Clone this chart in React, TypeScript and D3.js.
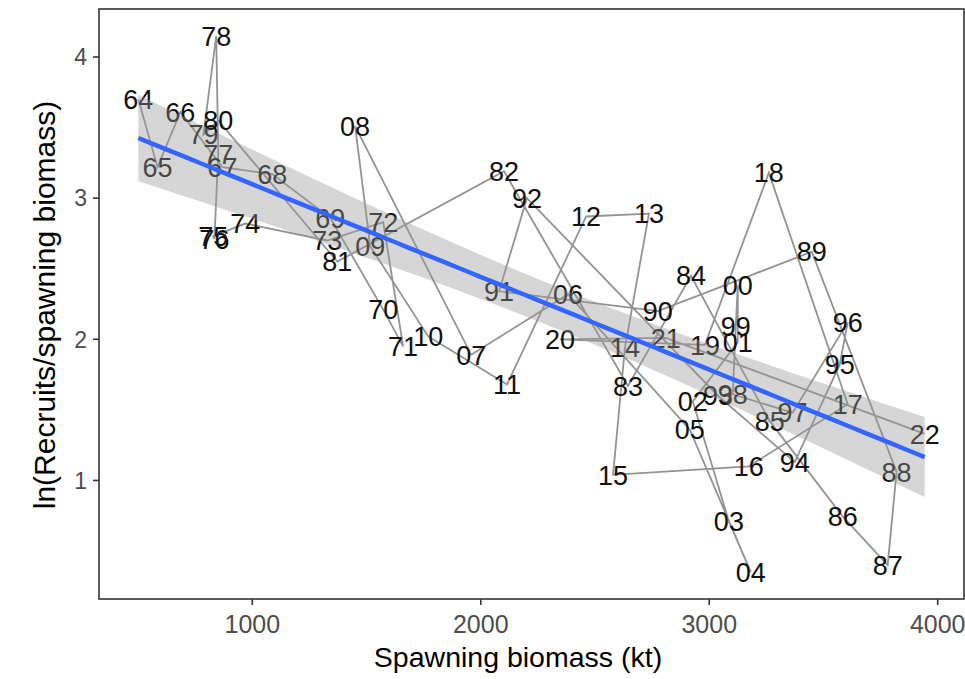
import React from "react";
import * as d3 from "d3";

const yearLabels = [
  "64","65","66","67","68","69","70","71","72","73","74","75","76","77","78","79",
  "80","81","82","83","84","85","86","87","88","89","90","91","92","93","94","95",
  "96","97","98","99","00","01","02","03","04","05","06","07","08","09","10","11",
  "12","13","14","15","16","17","18","19","20","21","22"
];

const spawningBiomass = [
  501, 585, 685, 869, 1087, 1341, 1573, 1660, 1573, 1328, 969, 829, 834, 851, 842, 786,
  851, 1372, 2102, 2644, 2920, 3265, 3584, 3781, 3820, 3449, 2775, 2080, 2202, 3038, 3374, 3571,
  3606, 3365, 3103, 3116, 3125, 3125, 2928, 3086, 3182, 2915, 2382, 1958, 1450, 1516, 1770, 2115,
  2461, 2736, 2631, 2579, 3173, 3606, 3261, 2981, 2347, 2810, 3943
];

const lnRecruitsPerSB = [
  3.70, 3.22, 3.61, 3.22, 3.17, 2.86, 2.21, 1.95, 2.83, 2.70, 2.82, 2.73, 2.71, 3.31, 4.15, 3.45,
  3.55, 2.55, 3.19, 1.67, 2.45, 1.42, 0.745, 0.40, 1.06, 2.62, 2.20, 2.34, 3.00, 1.60, 1.13, 1.82,
  2.12, 1.48, 1.61, 2.09, 2.38, 1.98, 1.56, 0.71, 0.35, 1.36, 2.32, 1.89, 3.51, 2.66, 2.02, 1.68,
  2.87, 2.89, 1.94, 1.04, 1.10, 1.54, 3.18, 1.96, 2.00, 2.01, 1.33
];

const xTicks = [1000, 2000, 3000, 4000];
const yTicks = [1, 2, 3, 4];

const W = 965, H = 679;
const panel = { left: 99, right: 964, top: 9, bottom: 599 };
const FONT = "'Liberation Sans', Arial, Helvetica, sans-serif";

export default function App() {
  const n = spawningBiomass.length;
  const xExt = d3.extent(spawningBiomass) as [number, number];
  const yExt = d3.extent(lnRecruitsPerSB) as [number, number];
  const xPad = (xExt[1] - xExt[0]) * 0.05;
  const yPad = (yExt[1] - yExt[0]) * 0.05;
  const x = d3.scaleLinear().domain([xExt[0] - xPad, xExt[1] + xPad]).range([panel.left, panel.right]);
  const y = d3.scaleLinear().domain([yExt[0] - yPad, yExt[1] + yPad]).range([panel.bottom, panel.top]);

  // linear model
  const mx = d3.mean(spawningBiomass)!;
  const my = d3.mean(lnRecruitsPerSB)!;
  let sxx = 0, sxy = 0;
  for (let i = 0; i < n; i++) {
    sxx += (spawningBiomass[i] - mx) ** 2;
    sxy += (spawningBiomass[i] - mx) * (lnRecruitsPerSB[i] - my);
  }
  const b = sxy / sxx;
  const a = my - b * mx;
  let sse = 0;
  for (let i = 0; i < n; i++) sse += (lnRecruitsPerSB[i] - (a + b * spawningBiomass[i])) ** 2;
  const df = n - 2;
  const s = Math.sqrt(sse / df);
  const z = 1.959964;
  const tq = z + (z ** 3 + z) / (4 * df) + (5 * z ** 5 + 16 * z ** 3 + 3 * z) / (96 * df * df);
  const grid = d3.range(80).map((i) => xExt[0] + (i / 79) * (xExt[1] - xExt[0]));
  const fit = grid.map((gx) => {
    const yh = a + b * gx;
    const se = s * Math.sqrt(1 / n + (gx - mx) ** 2 / sxx);
    return { gx, yh, lo: yh - tq * se, hi: yh + tq * se };
  });

  const pts = spawningBiomass.map((v, i) => ({ v, r: lnRecruitsPerSB[i], lab: yearLabels[i] }));
  const pathGen = d3.line<{ v: number; r: number }>().x((d) => x(d.v)).y((d) => y(d.r));
  const ribbon = d3.area<typeof fit[0]>().x((d) => x(d.gx)).y0((d) => y(d.lo)).y1((d) => y(d.hi));
  const fitLine = d3.line<typeof fit[0]>().x((d) => x(d.gx)).y((d) => y(d.yh));

  return (
    <svg width={W} height={H} style={{ position: "absolute", left: 0, top: 0, background: "#fff" }}>
      <rect x={0} y={0} width={W} height={H} fill="#fff" />
      <path d={pathGen(pts) || ""} fill="none" stroke="#939393" strokeWidth={1.8} />
      {pts.map((p, i) => (
        <text key={i} x={x(p.v)} y={y(p.r)} dy="0.36em" textAnchor="middle" fontFamily={FONT}
          fontSize={27} fill="#111">{p.lab}</text>
      ))}
      <path d={ribbon(fit) || ""} fill="#999999" fillOpacity={0.4} stroke="none" />
      <path d={fitLine(fit) || ""} fill="none" stroke="#3366FF" strokeWidth={4.5} />
      <rect x={panel.left} y={panel.top} width={panel.right - panel.left} height={panel.bottom - panel.top}
        fill="none" stroke="#333" strokeWidth={1.6} />
      {xTicks.map((t) => (
        <g key={t}>
          <line x1={x(t)} x2={x(t)} y1={panel.bottom} y2={panel.bottom + 6} stroke="#333" strokeWidth={1.6} />
          <text x={x(t)} y={633} textAnchor="middle" fontFamily={FONT} fontSize={25} fill="#4d4d4d">{t}</text>
        </g>
      ))}
      {yTicks.map((t) => (
        <g key={t}>
          <line x1={panel.left - 6} x2={panel.left} y1={y(t)} y2={y(t)} stroke="#333" strokeWidth={1.6} />
          <text x={87} y={y(t)} dy="0.36em" textAnchor="end" fontFamily={FONT} fontSize={23} fill="#4d4d4d">{t}</text>
        </g>
      ))}
      <text x={518} y={667} textAnchor="middle" fontFamily={FONT} fontSize={28.5} fill="#000">Spawning biomass (kt)</text>
      <text transform={`translate(55,305) rotate(-90)`} textAnchor="middle" fontFamily={FONT} fontSize={30} fill="#000">ln(Recruits/spawning biomass)</text>
    </svg>
  );
}
